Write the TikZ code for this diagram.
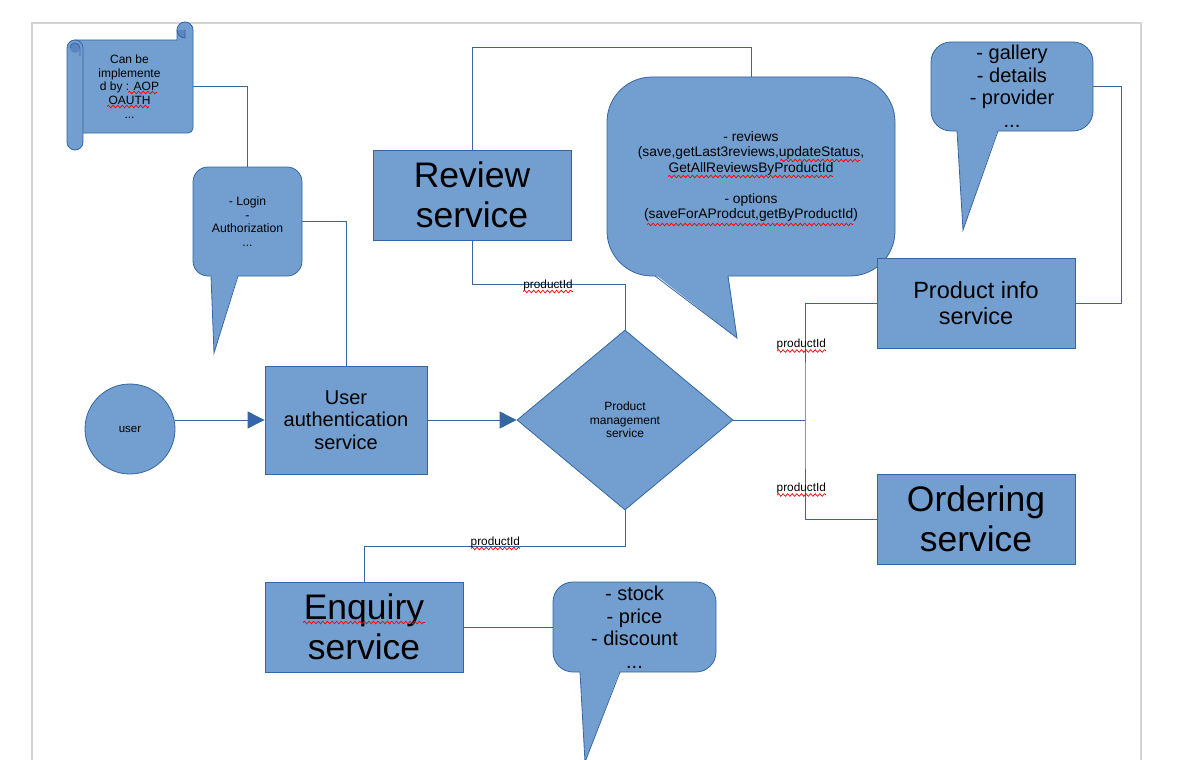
\documentclass[tikz,border=0pt]{standalone}
\usepackage{fontspec}
\setmainfont{Liberation Sans}
\usetikzlibrary{shapes.geometric,arrows.meta,decorations.pathmorphing}
\definecolor{fillb}{HTML}{729FCF}
\definecolor{lineb}{HTML}{3465A4}
\definecolor{darkb}{HTML}{5B86BF}
\definecolor{pageg}{HTML}{D3D3D3}
\begin{document}
\begin{tikzpicture}[x=1pt,y=-1pt,
  box/.style={draw=lineb, fill=fillb, line width=0.8pt, inner sep=0pt, align=center, text=black},
  bubble/.style={box, rounded corners=#1},
  conn/.style={draw=lineb, line width=0.9pt},
  arr/.style={conn, -{Triangle[length=17pt,width=17pt]}},
  lbl/.style={font=\fontsize{11.8}{13}\selectfont, inner sep=0pt},
  spell/.style={draw=red, line width=0.7pt, decorate, decoration={snake, amplitude=1.3pt, segment length=4.6pt}},
  ptrfill/.style={fill=fillb},
  ptrline/.style={draw=lineb, line width=0.8pt, line join=miter},
  big/.style={font=\fontsize{35.5}{39.5}\selectfont},
  mid/.style={font=\fontsize{20}{22.5}\selectfont}
]
\useasboundingbox (0,0) rectangle (1184,760);
% page frame
\draw[pageg, line width=1.4pt] (32,760) -- (32,23) -- (1141,23) -- (1141,760);

% ---------- scroll ----------
\filldraw[fill=fillb, draw=lineb, line width=0.8pt]
  (75,40) -- (177,40) -- (177,30) arc[start angle=180, end angle=360, radius=8]
  -- (193,128) arc[start angle=0, end angle=90, radius=5] -- (75,133) -- cycle;
\fill[darkb] (185,30) -- (177,30) arc[start angle=180, end angle=90, radius=8] -- cycle;
\draw[lineb, line width=0.8pt] (177,30) arc[start angle=180, end angle=90, radius=8] -- (185,30);
\filldraw[fill=fillb, draw=lineb, line width=0.8pt, rounded corners=8pt] (67,40) rectangle (83,150);
\fill[darkb] (75,48) circle[radius=5];
\draw[lineb, line width=0.8pt] (70,48) arc[start angle=180, end angle=360, radius=5] -- (80,56);
\node[inner sep=0pt, minimum width=110pt, minimum height=93pt] (scroll) at (138,86.5) {};
\node[inner sep=0pt, align=center, font=\fontsize{12}{13.7}\selectfont] (scrolltxt) at (129.5,86.5)
  {Can be\\implemente\\d by : AOP\\OAUTH\\...};

% ---------- login callout ----------
\node[bubble=15pt, minimum width=109pt, minimum height=109pt, font=\fontsize{12.2}{13.8}\selectfont] (login) at (247.5,221.5)
  {- Login\\-\\Authorization\\...};
\fill[ptrfill] (211,274.3) -- (214,353) -- (238,274.3) -- cycle;
\draw[ptrline] (211,276) -- (214,353) -- (238,276);

% ---------- user ----------
\node[circle, draw=lineb, fill=fillb, line width=0.8pt, minimum size=90pt, inner sep=0pt, font=\fontsize{11.5}{13}\selectfont] (user) at (130,429) {user};

% ---------- user authentication ----------
\node[box, minimum width=162pt, minimum height=108pt, mid] (auth) at (346,420) {User\\authentication\\service};

% ---------- product management ----------
\node[diamond, draw=lineb, fill=fillb, line width=0.8pt, minimum width=216pt, minimum height=180pt, inner sep=0pt, align=center, font=\fontsize{12}{13.3}\selectfont] (pm) at (625,420) {Product\\management\\service};

% ---------- review ----------
\node[box, minimum width=198pt, minimum height=90pt, big] (review) at (472,195) {Review\\service};

% ---------- review callout ----------
\node[bubble=45pt, minimum width=288pt, minimum height=199pt, font=\fontsize{13.8}{15.5}\selectfont] (revcall) at (751,176.5)
  {- reviews\\(save,getLast3reviews,updateStatus,\\GetAllReviewsByProductId\\[15.5pt]- options\\(saveForAProdcut,getByProductId)};
\fill[ptrfill] (655,274.3) -- (737,338) -- (728,274.3) -- cycle;
\draw[ptrline] (655,276) -- (737,338) -- (728,276);

% ---------- product info ----------
\node[box, minimum width=198pt, minimum height=90pt, font=\fontsize{23.5}{26}\selectfont] (pinfo) at (976,303) {Product info\\service};

% ---------- gallery callout ----------
\node[bubble=20pt, minimum width=162pt, minimum height=89pt, mid] (gallery) at (1012,86.5)
  {- gallery\\- details\\- provider\\...};
\fill[ptrfill] (957,129.3) -- (963,230) -- (998,129.3) -- cycle;
\draw[ptrline] (957,131) -- (963,230) -- (998,131);

% ---------- ordering ----------
\node[box, minimum width=198pt, minimum height=90pt, big] (ordering) at (976,519) {Ordering\\service};

% ---------- enquiry ----------
\node[box, minimum width=198pt, minimum height=90pt, big] (enquiry) at (364,627) {Enquiry\\service};

% ---------- stock callout ----------
\node[bubble=20pt, minimum width=163pt, minimum height=90pt, mid] (stock) at (634.5,627)
  {- stock\\- price\\- discount\\...};
\fill[ptrfill] (580,670.3) -- (585,762) -- (620,670.3) -- cycle;
\draw[ptrline] (580,672) -- (585,762) -- (620,672);

% ---------- connectors ----------
\coordinate (jn) at (805,420);
\draw[conn] (scroll.east) -| (login.north);
\draw[conn] (login.east) -| (auth.north);
\draw[arr] (user.east |- auth.west) -- (auth.west);
\draw[arr] (auth.east) -- (pm.west);
\draw[conn] (pm.north) -- ++(0,-45) -| (review.south);
\draw[conn] (review.north) -- ++(0,-102) -| (revcall.north);
\draw[conn] (pinfo.east) -- ++(46,0) |- (gallery.east);
\draw[conn] (pm.east) -- (jn);
\draw[conn] (pinfo.west) -| (jn) |- (ordering.west);
\draw[conn] (pm.south) -- ++(0,36) -| (enquiry.north);
\draw[conn] (enquiry.east) -- (stock.west);

% ---------- labels ----------
\node[lbl] (l1) at (548,285) {productId};
\node[lbl] (l2) at (801.3,344.6) {productId};
\node[lbl] (l3) at (801.3,488.6) {productId};
\node[lbl] (l4) at (495.3,542) {productId};

% ---------- spell-check marks ----------
\draw[spell] (128,92.5) -- (157,92.5);
\draw[spell] (107,106.5) -- (149,106.5);
\draw[spell] (780,160.5) -- (860,160.5);
\draw[spell] (668,176.5) -- (833,176.5);
\draw[spell] (647,224.5) -- (853,224.5);
\draw[spell] (523,291.5) -- (573,291.5);
\draw[spell] (777,351) -- (826,351);
\draw[spell] (777,495) -- (826,495);
\draw[spell] (471,548.5) -- (520,548.5);
\draw[spell] (303,622.5) -- (425,622.5);
\end{tikzpicture}
\end{document}
